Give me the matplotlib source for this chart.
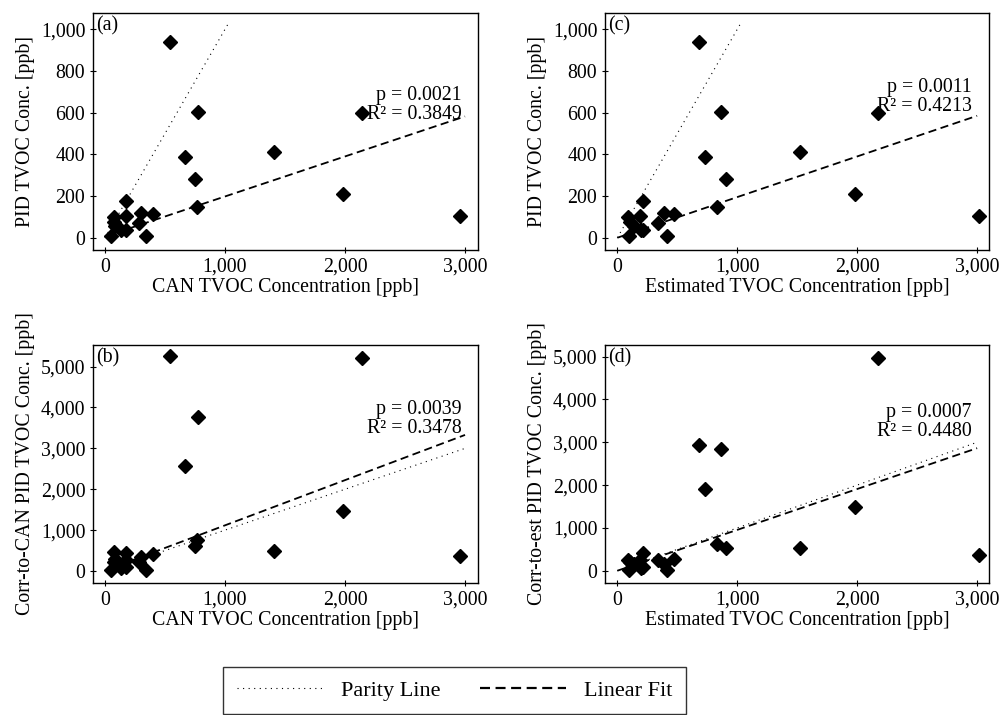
import numpy as np
import matplotlib.pyplot as plt
from matplotlib.ticker import FuncFormatter
from matplotlib.lines import Line2D

plt.rcParams['font.family'] = ['Liberation Serif', 'DejaVu Serif']
plt.rcParams['font.size'] = 14.3

# CAN and estimated TVOC concentration [ppb] (same samples, same order)
can_tvoc = [545, 776, 667, 751, 767, 1407, 1979, 2138, 2958,
            47, 72, 75, 80, 130, 178, 178, 178, 283, 300, 345, 400]
est_tvoc = [678, 865, 728, 910, 832, 1524, 1982, 2171, 3014,
            95, 106, 92, 140, 200, 215, 190, 218, 338, 385, 415, 475]
# PID TVOC concentration [ppb]
pid_tvoc = [938, 605, 389, 283, 149, 413, 210, 597, 104,
            8, 75, 101, 55, 37, 37, 104, 176, 69, 120, 6, 115]
# corrected PID readings
pid_corr_can = [5261, 3776, 2569, 612, 759, 498, 1476, 5220, 375,
                30, 230, 470, 300, 66, 90, 270, 440, 230, 335, 24, 420]
pid_corr_est = [2939, 2838, 1905, 521, 630, 521, 1485, 4977, 373,
                20, 200, 240, 150, 60, 90, 260, 410, 250, 150, 20, 270]

panel_labels = ['(a)', '(b)', '(c)', '(d)']
p_values = ['0.0021', '0.0039', '0.0011', '0.0007']
r2_values = ['0.3849', '0.3478', '0.4213', '0.4480']
fit_slopes = [0.192, 1.106, 0.195, 0.954]
fit_intercepts = [6, 11, 0, 0]
fit_range = [0, 3000]
parity_end = [1032, 3000, 1032, 3000]

x_data = [can_tvoc, can_tvoc, est_tvoc, est_tvoc]
y_data = [pid_tvoc, pid_corr_can, pid_tvoc, pid_corr_est]
x_labels = ['CAN TVOC Concentration [ppb]', 'CAN TVOC Concentration [ppb]',
            'Estimated TVOC Concentration [ppb]', 'Estimated TVOC Concentration [ppb]']
y_labels = ['PID TVOC Conc. [ppb]', 'Corr-to-CAN PID TVOC Conc. [ppb]',
            'PID TVOC Conc. [ppb]', 'Corr-to-est PID TVOC Conc. [ppb]']

# layout of the four panels (figure fractions) and limits
rects = [[0.093, 0.6503, 0.385, 0.3315], [0.093, 0.1846, 0.385, 0.333],
         [0.605, 0.6503, 0.384, 0.3315], [0.605, 0.1846, 0.384, 0.333]]
xlims = [(-100, 3108), (-100, 3108), (-103, 3099), (-103, 3099)]
ylims = [(-59, 1078), (-294, 5531), (-59, 1078), (-287, 5273)]
yticks = [[0, 200, 400, 600, 800, 1000], [0, 1000, 2000, 3000, 4000, 5000],
          [0, 200, 400, 600, 800, 1000], [0, 1000, 2000, 3000, 4000, 5000]]
text_pos = [(0.958, 0.612), (0.958, 0.690), (0.955, 0.646), (0.955, 0.676)]

dot_style = (0, (1, 4))
dash_style = (0, (4.5, 2.5))
comma_fmt = FuncFormatter(lambda v, pos: '{:,.0f}'.format(v))

fig = plt.figure(figsize=(10, 7.15), dpi=100)

for i in range(4):
    ax = fig.add_axes(rects[i])
    ax.plot([0, parity_end[i]], [0, parity_end[i]], color='k', lw=0.8, linestyle=dot_style)
    fx = np.array(fit_range)
    ax.plot(fx, fit_slopes[i] * fx + fit_intercepts[i], color='k', lw=1.3, linestyle=dash_style)
    ax.plot(x_data[i], y_data[i], 'D', color='k', markersize=7, linestyle='none')

    ax.set_xlim(xlims[i])
    ax.set_ylim(ylims[i])
    ax.set_xticks([0, 1000, 2000, 3000])
    ax.set_yticks(yticks[i])
    ax.xaxis.set_major_formatter(comma_fmt)
    ax.yaxis.set_major_formatter(comma_fmt)
    ax.tick_params(direction='inout', length=5, width=0.8, pad=3)
    ax.set_xlabel(x_labels[i], labelpad=1)
    ax.set_ylabel(y_labels[i], labelpad=4)
    for s in ax.spines.values():
        s.set_linewidth(1.0)

    ax.text(0.008, 0.985, panel_labels[i], transform=ax.transAxes, ha='left', va='top')
    tx, ty = text_pos[i]
    ax.text(tx, ty, 'p = ' + p_values[i] + '\nR\u00b2 = ' + r2_values[i],
            transform=ax.transAxes, ha='right', va='center', multialignment='right',
            linespacing=1.0)

# shared legend at the bottom (cut by the figure edge as in the original)
handles = [Line2D([], [], color='k', lw=0.8, linestyle=dot_style),
           Line2D([], [], color='k', lw=1.6, linestyle=dash_style)]
leg = fig.legend(handles, ['Parity Line', 'Linear Fit'], loc='upper center',
                 bbox_to_anchor=(0.4545, 0.0671), ncol=2, fontsize=16,
                 frameon=True, fancybox=False, edgecolor='k', handlelength=3.9,
                 handletextpad=0.8, columnspacing=1.75, borderpad=0.6,
                 borderaxespad=0)
leg.get_frame().set_linewidth(1.0)

fig.savefig('out.png', dpi=100)
